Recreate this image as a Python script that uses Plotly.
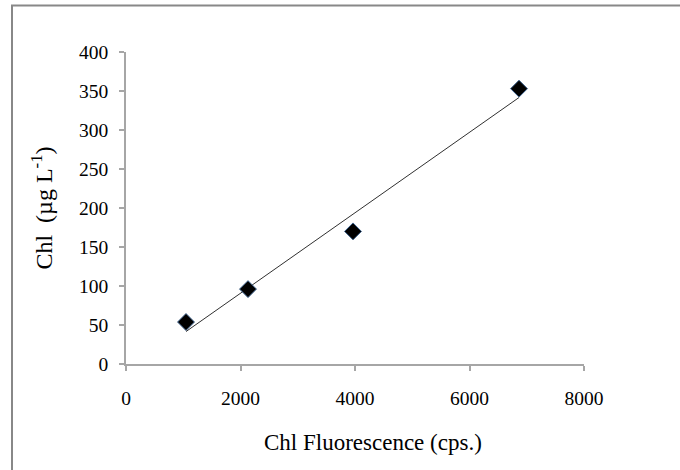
import numpy as np
import plotly.graph_objects as go

# Calibration data: fluorescence counts vs chlorophyll concentration
fluorescence_cps = [1048, 2131, 3965, 6865]
chl_ug_per_l = [53.8, 96, 170, 353]

x_ticks = [0, 2000, 4000, 6000, 8000]
y_ticks = [0, 50, 100, 150, 200, 250, 300, 350, 400]

# Linear trendline (least squares) over the measured range
slope, intercept = np.polyfit(fluorescence_cps, chl_ug_per_l, 1)
trend_x = [min(fluorescence_cps), max(fluorescence_cps)]
trend_y = [slope * v + intercept for v in trend_x]

font_family = "Liberation Serif"
plot_w, plot_h = 458, 312

fig = go.Figure()
fig.add_trace(go.Scatter(
    x=trend_x, y=trend_y, mode="lines",
    line=dict(color="#303030", width=1),
    hoverinfo="skip", showlegend=False,
))
fig.add_trace(go.Scatter(
    x=fluorescence_cps, y=chl_ug_per_l, mode="markers",
    marker=dict(symbol="diamond", size=13, color="black",
                line=dict(color="#3a5f8a", width=1)),
    showlegend=False,
))

axis_common = dict(
    showgrid=False, zeroline=False, showline=True,
    linecolor="#a6a6a6", linewidth=1.5,
    ticks="outside", ticklen=5, tickcolor="#a6a6a6", tickwidth=1.5,
    tickfont=dict(family=font_family, size=19.5, color="black"),
)

fig.update_layout(
    width=680, height=470,
    margin=dict(l=126, r=96, t=52, b=106),
    paper_bgcolor="white", plot_bgcolor="white",
    font=dict(family=font_family, color="black"),
    xaxis=dict(
        range=[0, 8000], tickvals=x_ticks, ticktext=[str(v) for v in x_ticks],
        ticklabelstandoff=11,
        **axis_common,
    ),
    yaxis=dict(
        range=[0, 400], tickvals=y_ticks, ticktext=[str(v) for v in y_ticks],
        ticklabelstandoff=7,
        title=dict(text="Chl\u00a0 (µg L<sup>-1</sup>)",
                   font=dict(family=font_family, size=24), standoff=20),
        **axis_common,
    ),
    annotations=[dict(
        text="Chl Fluorescence (cps.)", xref="paper", yref="paper",
        x=247 / plot_w, y=-78 / plot_h, xanchor="center", yanchor="middle",
        showarrow=False, font=dict(family=font_family, size=23, color="black"),
    )],
    shapes=[dict(
        type="rect", xref="paper", yref="paper",
        x0=-114 / plot_w, x1=1.5, y0=-0.6, y1=1 + 46.5 / plot_h,
        line=dict(color="#888888", width=2), fillcolor="rgba(0,0,0,0)",
        layer="below",
    )],
)

fig.write_html("out.html")
